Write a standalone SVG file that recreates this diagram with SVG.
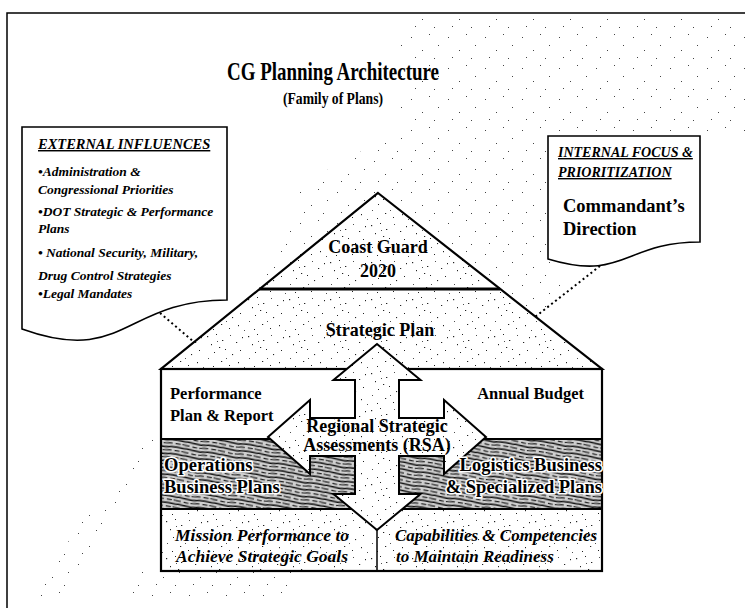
<svg xmlns="http://www.w3.org/2000/svg" width="745" height="608" viewBox="0 0 745 608">
  <style>
    text { font-family: "Liberation Serif", "Times New Roman", serif; fill: #000; }
    .b { font-weight: bold; }
    .bi { font-weight: bold; font-style: italic; }
    .mid { text-anchor: middle; }
    .end { text-anchor: end; }
    .halo { stroke: #fff; stroke-width: 3.2; stroke-linejoin: round; paint-order: stroke; }
    .edge { fill: none; stroke: #000; stroke-width: 2.2; stroke-linejoin: miter; }
    .callout { fill: #fff; stroke: #000; stroke-width: 1.6; }
    .dots { fill: none; stroke: #000; stroke-width: 2; stroke-dasharray: 2 3; }
  </style>
  <defs>
    <!-- fine stipple used on the roof, the arrow and the bottom row -->
    <pattern id="stipple" width="41" height="37" patternUnits="userSpaceOnUse">
      <rect width="41" height="37" fill="#fff"/>
      <g fill="#222">
        <rect x="2" y="3" width="1.2" height="1.2"/>
        <rect x="11" y="1" width="1" height="1"/>
        <rect x="17" y="7" width="1.3" height="1"/>
        <rect x="6" y="11" width="1" height="1.2"/>
        <rect x="14" y="14" width="1.2" height="1"/>
        <rect x="20" y="16" width="1" height="1"/>
        <rect x="9" y="19" width="1" height="1"/>
        <rect x="3" y="25" width="0.9" height="0.9"/>
        <rect x="25" y="2" width="0.9" height="0.9"/>
        <rect x="31" y="9" width="1.2" height="1"/>
        <rect x="37" y="4" width="1" height="1.2"/>
        <rect x="27" y="21" width="1.1" height="1.1"/>
        <rect x="35" y="17" width="1" height="1"/>
        <rect x="16" y="28" width="1.2" height="1"/>
        <rect x="24" y="32" width="1" height="1"/>
        <rect x="33" y="29" width="1" height="1.2"/>
        <rect x="8" y="33" width="1" height="1"/>
        <rect x="39" y="34" width="0.9" height="0.9"/>
        <rect x="21" y="25" width="0.9" height="0.9"/>
        <rect x="12" y="8" width="0.9" height="0.9"/>
      </g>
    </pattern>
    <!-- sparse speckle across the background band -->
    <pattern id="haze" width="37" height="31" patternUnits="userSpaceOnUse">
      <g fill="#444">
        <rect x="4" y="6" width="1" height="1"/>
        <rect x="22" y="3" width="1" height="1"/>
        <rect x="15" y="19" width="1" height="1"/>
        <rect x="31" y="14" width="1" height="1"/>
        <rect x="8" y="26" width="1" height="1"/>
        <rect x="27" y="27" width="1" height="1"/>
      </g>
    </pattern>
    <!-- dark streaked fill of the business plans band -->
    <pattern id="streaks" width="36" height="7" patternUnits="userSpaceOnUse" patternTransform="rotate(9)">
      <rect width="36" height="7" fill="#cfcfcf"/>
      <path d="M0,1.5 C6,0.5 12,3 18,2 S30,0.8 36,1.5" stroke="#111" stroke-width="1.5" fill="none"/>
      <path d="M-4,5 C3,4 9,6.5 16,5.5 S28,4.2 40,5" stroke="#222" stroke-width="1.2" stroke-dasharray="9 3 5 2" fill="none"/>
    </pattern>
  </defs>

  <!-- outer frame -->
  <path d="M7,608 V13 H745" fill="none" stroke="#000" stroke-width="1.5"/>

  <!-- speckled background band -->
  <g fill="url(#haze)">
    <path d="M400,18 L745,18 L745,135 L560,135 L560,300 L520,340 L380,370 L260,290 L300,185 L400,130 Z"/>
    <path d="M140,440 L165,440 L60,603 L25,603 Z"/>
    <path d="M130,572 L300,572 L300,603 L115,603 Z"/>
  </g>

  <!-- title -->
  <g id="title">
    <text x="333" y="80" class="b mid" font-size="26" textLength="212" lengthAdjust="spacingAndGlyphs">CG Planning Architecture</text>
    <text x="333" y="104" class="b mid" font-size="16" textLength="100" lengthAdjust="spacingAndGlyphs">(Family of Plans)</text>
  </g>

  <!-- house: roof -->
  <g id="roof">
    <path d="M378,193 L602,369 L161,369 Z" fill="url(#stipple)"/>
    <path d="M378,193 L602,369 L161,369 Z" class="edge"/>
    <line x1="259" y1="289" x2="500" y2="289" stroke="#000" stroke-width="3"/>
  </g>
  <g id="coast-guard-2020">
    <text x="378" y="253" class="b mid" font-size="18">Coast Guard</text>
    <text x="378" y="277" class="b mid" font-size="18">2020</text>
  </g>
  <g id="strategic-plan">
    <text x="380" y="336" class="b mid" font-size="18">Strategic Plan</text>
  </g>

  <!-- house: body rows -->
  <g id="house-body">
    <rect x="161" y="369" width="441" height="70" fill="#fff"/>
    <rect x="161" y="439" width="441" height="70" fill="url(#streaks)"/>
    <rect x="161" y="509" width="441" height="62" fill="url(#stipple)"/>
    <rect x="161" y="369" width="441" height="202" class="edge"/>
    <line x1="161" y1="439" x2="602" y2="439" stroke="#000" stroke-width="2"/>
    <line x1="161" y1="509" x2="602" y2="509" stroke="#000" stroke-width="2"/>
    <line x1="377" y1="509" x2="377" y2="571" stroke="#000" stroke-width="1.5"/>
  </g>

  <g id="performance-plan">
    <text x="170" y="399" class="b" font-size="16.5">Performance</text>
    <text x="170" y="421" class="b" font-size="16.5">Plan &amp; Report</text>
  </g>
  <g id="annual-budget">
    <text x="584" y="399" class="b end" font-size="16.5">Annual Budget</text>
  </g>

  <!-- four-way arrow -->
  <g id="rsa-arrow">
    <path d="M377,344 L420.5,380 L399,380 L399,418 L444,418 L444,400 L486,437 L444,474 L444,456 L399,456 L399,494 L420.5,494 L377,530 L333.5,494 L355,494 L355,456 L310,456 L310,474 L268,437 L310,400 L310,418 L355,418 L355,380 L333.5,380 Z" fill="url(#stipple)" stroke="#000" stroke-width="2" stroke-linejoin="miter"/>
    <text x="377" y="432" class="b mid" font-size="18">Regional Strategic</text>
    <text x="377" y="451" class="b mid" font-size="18">Assessments (RSA)</text>
  </g>

  <g id="operations">
    <text x="164" y="471" class="b halo" font-size="18.5">Operations</text>
    <text x="164" y="493" class="b halo" font-size="18.5">Business Plans</text>
  </g>
  <g id="logistics">
    <text x="602" y="471" class="b end halo" font-size="18.5">Logistics Business</text>
    <text x="602" y="493" class="b end halo" font-size="18.5">&amp; Specialized Plans</text>
  </g>
  <g id="mission-performance">
    <text x="262" y="541" class="bi mid" font-size="17.5">Mission Performance to</text>
    <text x="262" y="562" class="bi mid" font-size="17.5">Achieve Strategic Goals</text>
  </g>
  <g id="capabilities">
    <text x="395" y="541" class="bi" font-size="17">Capabilities &amp; Competencies</text>
    <text x="396" y="562" class="bi" font-size="17">to  Maintain Readiness</text>
  </g>

  <!-- left callout -->
  <g id="external-influences">
    <path d="M22,127 H227 V300 C124.5,300 124.5,366 22,329 Z" class="callout"/>
    <text x="38" y="149" class="bi" font-size="14.5" text-decoration="underline">EXTERNAL INFLUENCES</text>
    <text x="38" y="176" class="bi" font-size="13.5">•Administration &amp;</text>
    <text x="38" y="194" class="bi" font-size="13.5">Congressional Priorities</text>
    <text x="38" y="216" class="bi" font-size="13.5">•DOT Strategic &amp; Performance</text>
    <text x="38" y="233" class="bi" font-size="13.5">Plans</text>
    <text x="38" y="257" class="bi" font-size="13.5">• National Security, Military,</text>
    <text x="38" y="280" class="bi" font-size="13.5">Drug Control Strategies</text>
    <text x="38" y="298" class="bi" font-size="13.5">•Legal Mandates</text>
  </g>

  <!-- right callout -->
  <g id="internal-focus">
    <path d="M548,136 H700 V242 C624,242 624,282 548,259 Z" class="callout"/>
    <text x="558" y="157" class="bi" font-size="14" text-decoration="underline">INTERNAL FOCUS &amp;</text>
    <text x="558" y="177" class="bi" font-size="14" text-decoration="underline">PRIORITIZATION</text>
    <text x="563" y="212" class="b" font-size="18.5">Commandant’s</text>
    <text x="563" y="235" class="b" font-size="18.5">Direction</text>
  </g>

  <!-- dotted links from the callouts to the roof -->
  <g id="connectors">
    <line x1="160" y1="313" x2="194" y2="342" class="dots"/>
    <line x1="600" y1="266" x2="535" y2="317" class="dots"/>
  </g>
</svg>
